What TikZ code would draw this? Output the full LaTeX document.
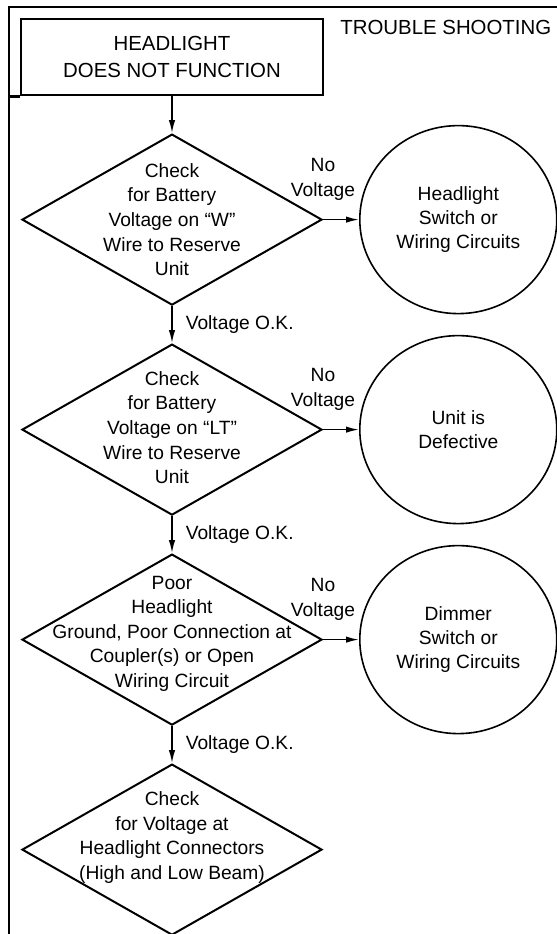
\documentclass[tikz,border=0pt]{standalone}
\usepackage{fontspec}
\setmainfont{Liberation Sans}
\usetikzlibrary{arrows.meta,positioning,shapes.geometric}
\tikzset{
  headbox/.style={draw, line width=1.1pt, minimum width=151pt, minimum height=38pt,
    align=center, inner sep=0pt, font=\fontsize{10.2}{13.5}\selectfont},
  check/.style={diamond, draw, line width=1pt, minimum width=150pt, minimum height=85.5pt,
    inner sep=0pt},
  checktext/.style={align=center, inner sep=0pt, font=\fontsize{9.6}{12.3}\selectfont},
  result/.style={ellipse, draw, line width=0.8pt, minimum width=98.5pt, minimum height=94pt,
    align=center, inner sep=0pt, font=\fontsize{9.6}{11.8}\selectfont},
  flow/.style={-{Latex[length=6.5pt,width=3.2pt]}, line width=0.8pt},
  oklabel/.style={anchor=west, inner sep=0pt, xshift=6.5pt, font=\fontsize{9.6}{11}\selectfont},
  nolabel/.style={anchor=south, inner sep=0pt, yshift=9pt, align=center,
    font=\fontsize{9.6}{12.5}\selectfont},
  frameline/.style={line width=1.4pt}
}

\begin{document}
\begin{tikzpicture}[x=0.5pt, y=-0.5pt, node distance=18.5pt and 18pt]
  \useasboundingbox (0,0) rectangle (557,934);
  % page frame and heading
  \coordinate (framecorner) at (9,7);
  \draw[frameline] (9,934) -- (framecorner) -- (557,7);
  \node[headbox] (fault) at (172,57) {HEADLIGHT\\DOES NOT FUNCTION};
  \draw[frameline] (fault.south west -| framecorner) -- (fault.south west);
  \node[anchor=west, inner sep=0pt, font=\fontsize{10.2}{12}\selectfont] (title) at (340,27)
    {TROUBLE SHOOTING};

  % checks
  \node[check, below=of fault] (wcheck) {};
  \node[check, below=of wcheck] (ltcheck) {};
  \node[check, below=of ltcheck] (gndcheck) {};
  \node[check, below=of gndcheck] (conncheck) {};
  \node[checktext] (wtext) at (wcheck)
    {Check\\for Battery\\Voltage on ``W''\\Wire to Reserve\\Unit};
  \node[checktext, yshift=1pt] (lttext) at (ltcheck)
    {Check\\for Battery\\Voltage on ``LT''\\Wire to Reserve\\Unit};
  \node[checktext, yshift=3pt] (gndtext) at (gndcheck)
    {Poor\\Headlight\\Ground, Poor Connection at\\Coupler(s) or Open\\Wiring Circuit};
  \node[checktext, yshift=6pt] (conntext) at (conncheck)
    {Check\\for Voltage at\\Headlight Connectors\\(High and Low Beam)};

  % results
  \node[result, right=of wcheck] (switchfix) {Headlight\\Switch or\\Wiring Circuits};
  \node[result, right=of ltcheck] (unitfix) {Unit is\\Defective};
  \node[result, right=of gndcheck] (dimmerfix) {Dimmer\\Switch or\\Wiring Circuits};

  \draw[flow] (fault) -- (wcheck);
  \draw[flow] (wcheck) -- node[oklabel] {Voltage O.K.} (ltcheck);
  \draw[flow] (ltcheck) -- node[oklabel] {Voltage O.K.} (gndcheck);
  \draw[flow] (gndcheck) -- node[oklabel] {Voltage O.K.} (conncheck);
  \draw[flow] (wcheck) -- node[nolabel, pos=0] {No\\Voltage} (switchfix);
  \draw[flow] (ltcheck) -- node[nolabel, pos=0] {No\\Voltage} (unitfix);
  \draw[flow] (gndcheck) -- node[nolabel, pos=0] {No\\Voltage} (dimmerfix);
\end{tikzpicture}
\end{document}
